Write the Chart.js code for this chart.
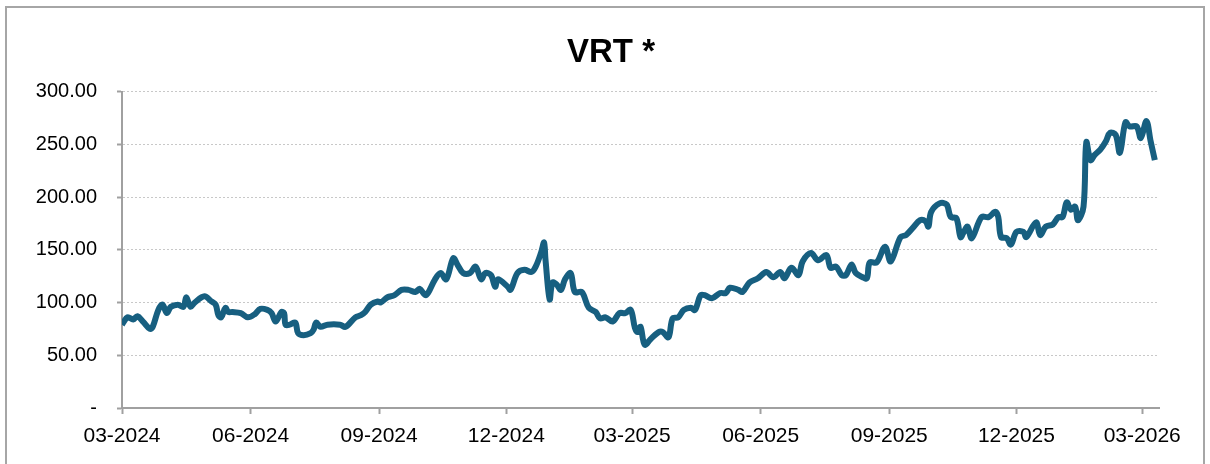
<!DOCTYPE html>
<html>
<head>
<meta charset="utf-8">
<script src="https://cdn.jsdelivr.net/npm/chart.js@4"></script>
<style>
  body { margin: 0; background: #fff; }
  #frame { position: absolute; left: 5px; top: 6px; width: 1196px; height: 470px; border: 2px solid #a6a6a6; }
  #wrap { position: absolute; left: 0; top: 0; width: 1210px; height: 464px; }
</style>
</head>
<body>
<div id="frame"></div>
<div id="wrap"><canvas id="myChart" width="1210" height="464"></canvas></div>
<script>
// days counted from 01-03-2024
var days = [0,4,8,11,15,20,22,26,29,32,35,40,44,46,49,52,59,64,67,69,71,74,76,79,85,90,95,99,104,107,110,114,116,117,120,124,126,130,135,137,139,142,147,
  156,160,167,171,174,178,183,185,190,195,200,205,210,213,217,219,224,228,232,237,240,244,249,253,257,260,264,267,269,276,278,283,288,293,296,
  300,302,303,306,308,311,314,317,321,324,329,334,339,342,346,351,356,360,364,367,369,371,374,378,384,387,391,394,398,402,407,410,414,417,422,428,432,435,441,444,449,
  455,461,466,471,474,479,484,487,493,498,504,507,511,515,518,522,525,530,533,535,540,546,550,557,561,566,571,575,577,579,585,590,593,597,600,
  602,605,608,615,620,625,627,629,633,636,640,645,647,654,657,661,666,670,673,676,679,682,684,688,690,693,696,700,704,707,711,714,718,721,726,729,733,736,739];

var prices = [79,86,84,87,82,75,77,93,98,90,96,98,96,105,96,100,106,101,98,88,86,95,91,91,90,86,89,94,93,90,82,91,90,79,79,81,71,69,71,74,81,77,79,
  79,77,86,88,91,98,101,100,105,107,112,112,110,113,107,109,122,128,122,142,136,128,128,134,122,128,126,115,122,115,112,128,131,129,134,
  148,157,141,103,119,117,112,122,128,110,110,95,91,85,86,82,90,90,93,76,72,77,60,65,72,72,67,85,86,93,95,93,107,107,104,109,109,114,112,110,119,
  123,129,124,129,123,133,126,139,147,140,145,133,134,126,126,136,128,124,123,138,138,153,139,162,164,171,178,177,172,186,194,193,181,180,162,
  166,172,161,181,181,186,181,162,161,155,167,167,162,176,164,172,174,181,181,195,188,191,178,191,252,235,240,245,253,261,259,242,271,267,267,256,272,253,235];

var tickDays = [0,92,184,275,365,457,549,640,730];
var tickLabels = ["03-2024","06-2024","09-2024","12-2024","03-2025","06-2025","09-2025","12-2025","03-2026"];

var points = days.map((d, i) => ({x: d, y: prices[i]}));

ctx = document.getElementById('myChart').getContext('2d');

new Chart(ctx, {
  type: "line",
  data: {
    datasets: [{
      label: "VRT",
      data: points,
      borderColor: "#175f80",
      borderWidth: 6,
      pointRadius: 0,
      tension: 0.35,
      fill: false
    }]
  },
  options: {
    responsive: false,
    animation: false,
    layout: { padding: { left: 12, right: 0, top: 0, bottom: 0 } },
    scales: {
      x: {
        type: "linear",
        min: 0,
        max: 742,
        afterBuildTicks: function(scale) {
          scale.ticks = tickDays.map(v => ({ value: v }));
        },
        afterFit: function(scale) { scale.height = 56; },
        ticks: {
          autoSkip: false,
          maxRotation: 0,
          padding: 10,
          color: "#000",
          font: { family: "'Liberation Sans', Arial", size: 21 },
          callback: function(v) {
            var i = tickDays.indexOf(v);
            return i >= 0 ? tickLabels[i] : "";
          }
        },
        grid: { drawOnChartArea: false, tickLength: 6, tickColor: "#a0a0a0", tickWidth: 2 },
        border: { display: true, color: "#a0a0a0", width: 2 }
      },
      y: {
        min: 0,
        max: 300,
        afterFit: function(scale) { scale.width = 110; },
        ticks: {
          stepSize: 50,
          padding: 20,
          color: "#000",
          font: { family: "'Liberation Sans', Arial", size: 20 },
          callback: function(v) { return v === 0 ? "-" : v.toFixed(2); }
        },
        grid: { color: "#c8c8c8", lineWidth: 1, tickLength: 5, tickColor: "#a0a0a0", tickWidth: 2, tickBorderDash: [] },
        border: { display: true, color: "#a0a0a0", width: 2, dash: [2, 2] }
      },
      yRight: {
        position: "right",
        min: 0,
        max: 300,
        afterFit: function(scale) { scale.width = 51; },
        ticks: { display: false },
        grid: { display: false, drawOnChartArea: false, drawTicks: false },
        border: { display: false }
      }
    },
    plugins: {
      legend: { display: false },
      tooltip: { enabled: false },
      title: {
        display: true,
        text: "VRT *",
        color: "#000",
        font: { family: "'Liberation Sans', Arial", size: 33, weight: "bold" },
        padding: { top: 33, bottom: 19 }
      }
    }
  }
});
</script>
</body>
</html>
